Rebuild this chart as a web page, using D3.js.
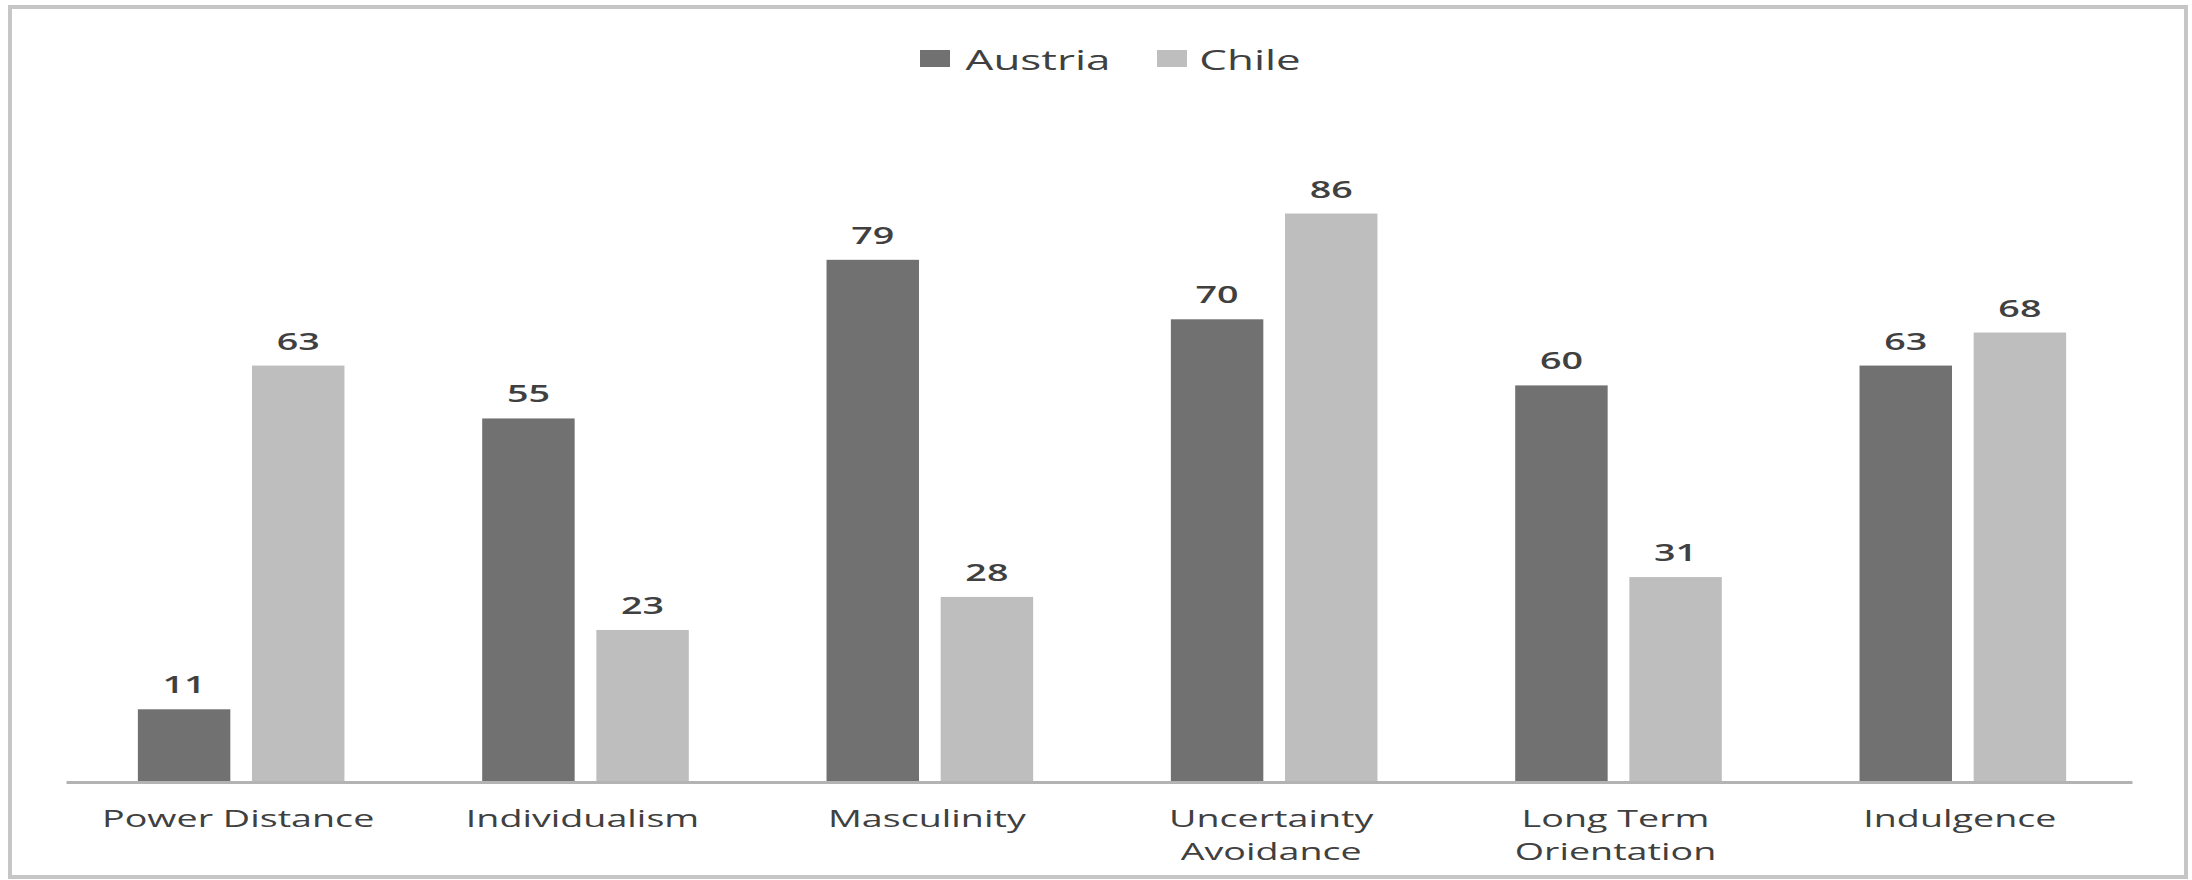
<!DOCTYPE html>
<html>
<head>
<meta charset="utf-8">
<script src="https://cdn.jsdelivr.net/npm/d3@7"></script>
<style>
  body { margin: 0; background: #fff; }
  svg { display: block; }
</style>
</head>
<body>
<svg id="chart" width="2192" height="880"></svg>
<script>
// Hofstede cultural dimension scores, Austria vs Chile
const categories = ["Power Distance", "Individualism", "Masculinity", "Uncertainty Avoidance", "Long Term Orientation", "Indulgence"];
const categoryLabelLines = [["Power Distance"], ["Individualism"], ["Masculinity"], ["Uncertainty", "Avoidance"], ["Long Term", "Orientation"], ["Indulgence"]];
const seriesNames = ["Austria", "Chile"];
const austriaValues = [11, 55, 79, 70, 60, 63];
const chileValues = [63, 23, 28, 86, 31, 68];
const seriesColors = ["#717171", "#bebebe"];

const rows = categories.map((c, i) => ({
  category: c,
  lines: categoryLabelLines[i],
  values: [
    { series: seriesNames[0], value: austriaValues[i] },
    { series: seriesNames[1], value: chileValues[i] }
  ]
}));

const W = 2192, H = 880;
const plot = { left: 66, right: 2132, top: 121, bottom: 782 };
const SX = 1.57;             // horizontal stretch applied to all text
const FONT = "'Open Sans', 'DejaVu Sans', sans-serif";
const TEXT_COLOR = "#404040";

const svg = d3.select("#chart");

// outer frame
svg.append("rect")
  .attr("x", 10).attr("y", 7)
  .attr("width", W - 16).attr("height", H - 10)
  .attr("fill", "#fff")
  .attr("stroke", "#c6c6c6")
  .attr("stroke-width", 4);

const x0 = d3.scaleBand().domain(categories).range([plot.left, plot.right]).padding(0);
const bw = x0.bandwidth();
const x1 = d3.scaleBand().domain(seriesNames).range([bw * 0.2 + 3, bw * 0.8 + 3]).paddingInner(0.19);
const y = d3.scaleLinear().domain([0, 100]).range([plot.bottom, plot.top]);
const color = d3.scaleOrdinal().domain(seriesNames).range(seriesColors);

function stretchedText(parent, x, yPos, str, size, weight) {
  const g = parent.append("g").attr("transform", `translate(${x},${yPos}) scale(${SX},1)`);
  g.append("text")
    .attr("text-anchor", "middle")
    .attr("font-family", FONT)
    .attr("font-size", size)
    .attr("font-weight", weight || 400)
    .attr("fill", TEXT_COLOR)
    .text(str);
  return g;
}

// bars
const groups = svg.append("g").selectAll("g.group")
  .data(rows).join("g")
  .attr("class", "group")
  .attr("transform", d => `translate(${x0(d.category)},0)`);

groups.selectAll("rect")
  .data(d => d.values).join("rect")
  .attr("x", d => x1(d.series))
  .attr("y", d => y(d.value))
  .attr("width", x1.bandwidth())
  .attr("height", d => y(0) - y(d.value))
  .attr("fill", d => color(d.series));

// value labels
groups.each(function (d) {
  const g = d3.select(this);
  d.values.forEach(v => {
    stretchedText(g, x1(v.series) + x1.bandwidth() / 2, y(v.value) - 16, String(v.value), 24, 600);
  });
});

// x axis baseline
const xAxis = svg.append("g")
  .attr("transform", `translate(0,${y(0)})`)
  .call(d3.axisBottom(x0).tickSize(0).tickFormat(""));
xAxis.select(".domain").attr("stroke", "#b3b3b3").attr("stroke-width", 3);

// category labels
const labelLayer = svg.append("g");
rows.forEach(d => {
  const cx = x0(d.category) + bw / 2;
  d.lines.forEach((line, j) => {
    stretchedText(labelLayer, cx, y(0) + 45 + j * 33, line, 24, 500);
  });
});

// legend
const legendItems = [
  { name: seriesNames[0], sx: 920, tx: 1038 },
  { name: seriesNames[1], sx: 1157, tx: 1250 }
];
const legend = svg.append("g");
legendItems.forEach(item => {
  legend.append("rect")
    .attr("x", item.sx).attr("y", 50)
    .attr("width", 30).attr("height", 17)
    .attr("fill", color(item.name));
  stretchedText(legend, item.tx, 70, item.name, 28, 500);
});
</script>
</body>
</html>
